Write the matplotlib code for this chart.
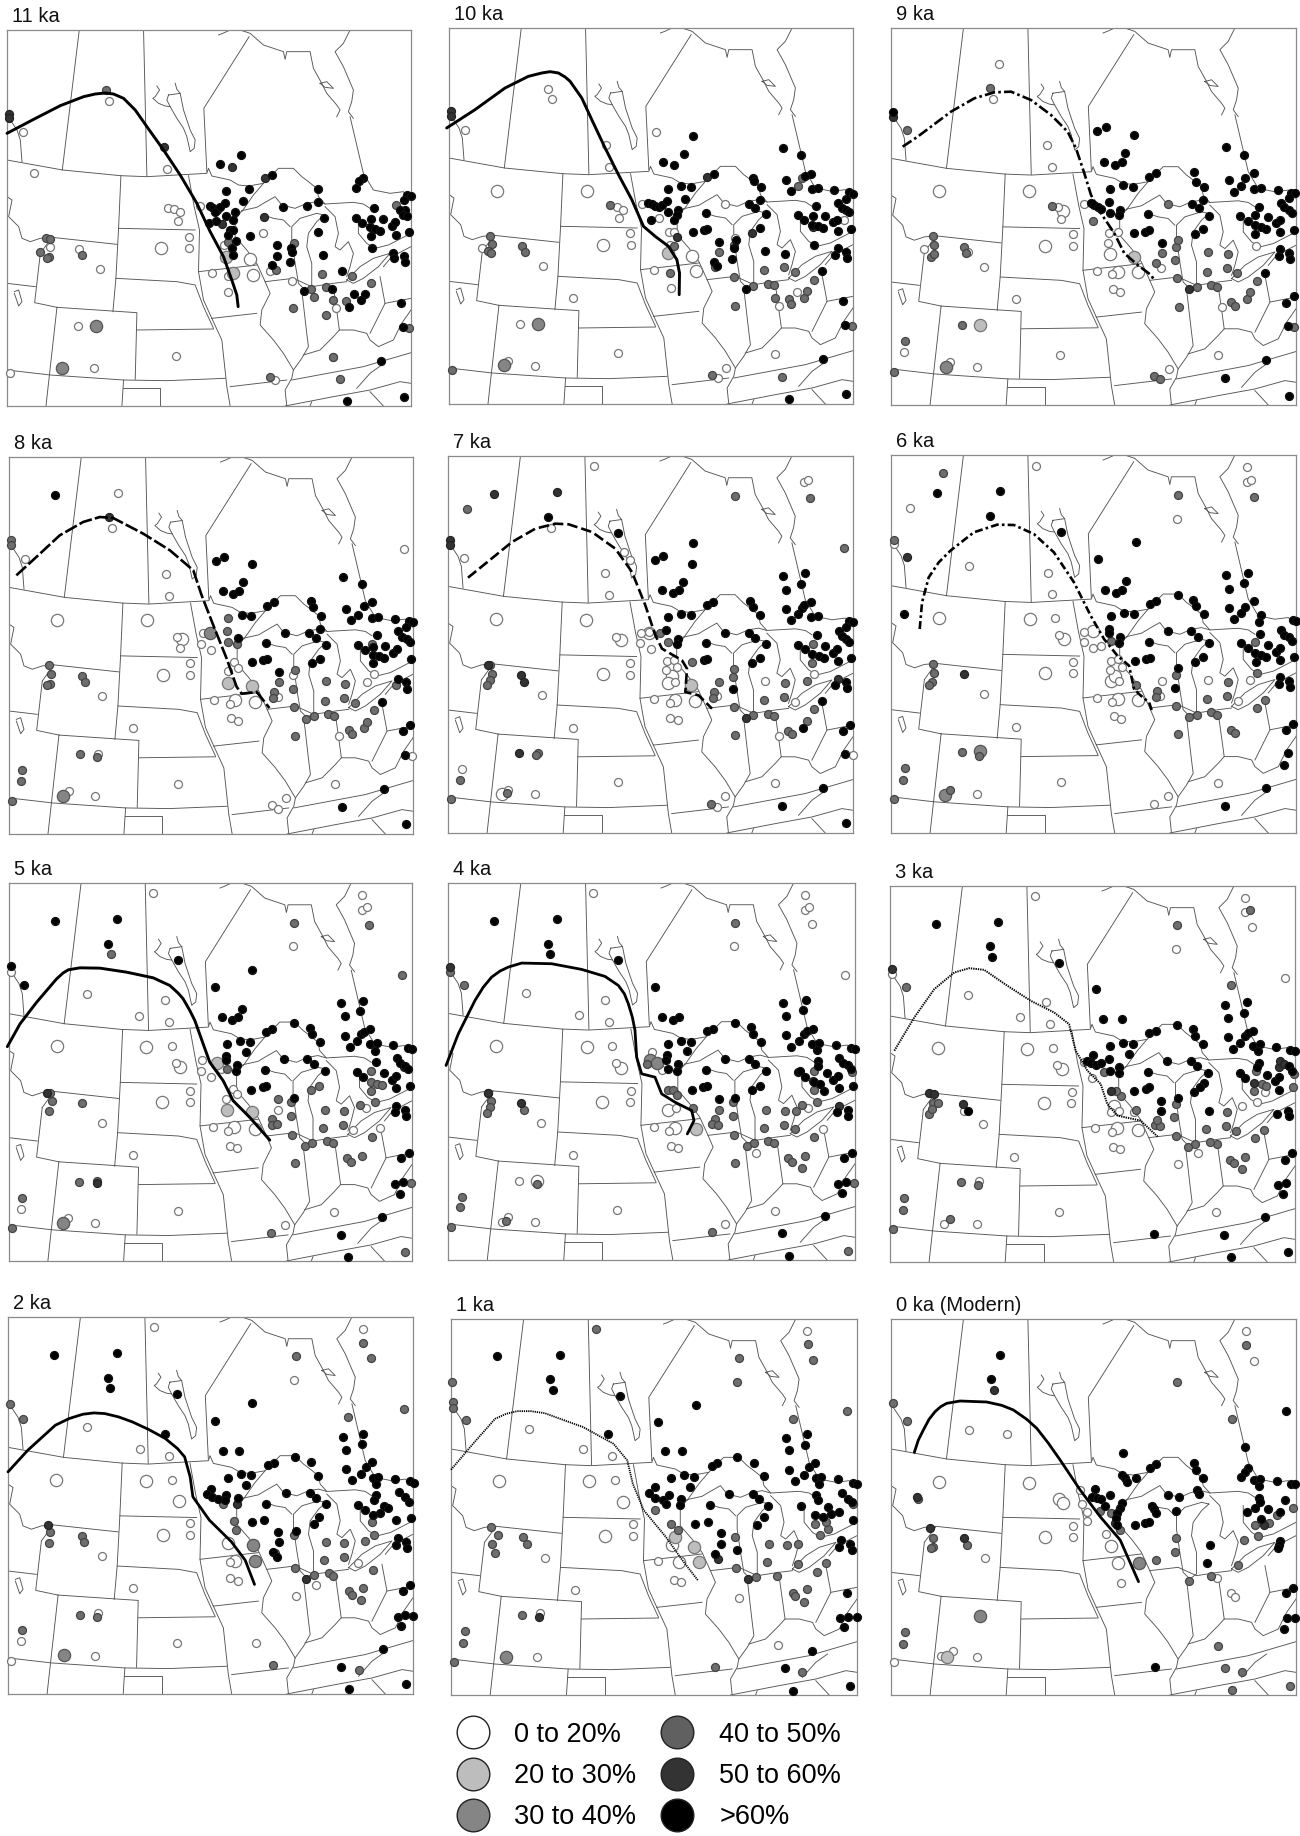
import matplotlib
matplotlib.use('Agg')
import matplotlib.pyplot as plt
from matplotlib.lines import Line2D

plt.rcParams['font.family'] = ['Liberation Sans', 'DejaVu Sans']

# class colours
C_WHITE = '#ffffff'
C_LIGHT = '#bdbdbd'
C_MID = '#858585'
C_DARK = '#606060'
C_VDARK = '#333333'
C_BLACK = '#000000'

legend_labels = ['0 to 20%', '20 to 30%', '30 to 40%', '40 to 50%', '50 to 60%', '>60%']
legend_colors = [C_WHITE, C_LIGHT, C_MID, C_DARK, C_VDARK, C_BLACK]

# base map (frame x 20-1233, y 90-1218)
map_lines = [
    [(237,90),(186,510)],
    [(430,90),(440,528)],
    [(747,110),(611,325),(620,515)],
    [(20,480),(187,510),(360,527),(440,530),(620,520),(625,505),(635,528),(690,540),(715,555),(745,558),(790,550),(815,525),(835,505),(880,505),(905,530),(925,545),(950,565),(955,590),(975,612)],
    [(725,635),(760,585),(790,550)],
    [(725,632),(770,622),(790,610),(825,590),(845,615),(885,625),(920,610),(950,605),(975,612),(1060,607),(1090,612),(1110,625)],
    [(655,105),(668,100),(690,90)],
    [(720,90),(750,100),(790,135),(850,155),(855,178),(860,155),(930,155),(940,205),(965,250),(980,280),(1010,315),(1020,330),(1010,350)],
    [(1050,90),(1030,130),(1005,155),(1030,200),(1060,270),(1055,305),(1045,335),(1060,355)],
    [(1050,350),(1090,520),(1120,570),(1170,580),(1210,575),(1233,600)],
    [(960,250),(980,245),(1000,265),(975,262),(960,250)],
    [(972,645),(950,640),(900,655),(875,680),(875,720),(885,790),(895,850),(915,870),(935,855),(935,790),(920,740),(925,700),(950,665),(972,645)],
    [(725,632),(705,660),(705,710),(740,750),(770,790),(795,845),(810,880),(785,930),(780,975),(820,1020),(850,1060),(880,1110),(875,1135),(855,1170),(860,1218)],
    [(790,645),(820,655),(850,660),(870,680)],
    [(975,620),(1005,650),(1015,700),(1005,740),(1020,750),(1045,725),(1060,760),(1050,800),(1040,830)],
    [(1040,840),(1080,800),(1120,775),(1170,760),(1135,800),(1090,835),(1060,850),(1040,840)],
    [(1075,650),(1075,700),(1100,730),(1125,745),(1165,735),(1233,700)],
    [(1150,800),(1175,770),(1233,740)],
    [(795,845),(880,835),(935,860),(1000,850),(1040,845)],
    [(905,870),(920,1000),(925,1040),(905,1075),(880,1110)],
    [(1000,860),(1018,990)],
    [(910,1065),(960,1050),(1000,1010),(1018,990),(1060,990),(1100,1000),(1110,1020),(1135,1040),(1180,1020),(1205,970),(1233,930)],
    [(1140,830),(1155,910),(1130,960),(1110,1000)],
    [(1155,910),(1233,895)],
    [(875,1140),(1090,1100),(1233,1058)],
    [(855,1218),(1000,1190),(1110,1170),(1200,1145),(1233,1150)],
    [(1070,1165),(1110,1120),(1145,1095)],
    [(1110,1175),(1150,1218)],
    [(930,1218),(935,1205)],
    [(635,955),(770,940)],
    [(690,1160),(860,1140)],
    [(635,955),(665,1020),(680,1160),(690,1218)],
    [(410,990),(640,987)],
    [(20,1110),(150,1125),(370,1140),(500,1142),(675,1135)],
    [(170,922),(410,938),(405,1138)],
    [(170,922),(137,1218)],
    [(120,760),(103,908),(170,922)],
    [(155,712),(350,733)],
    [(362,527),(355,685),(347,835),(338,935)],
    [(355,685),(585,690)],
    [(347,835),(530,845),(585,855),(610,920),(640,985)],
    [(565,527),(582,620),(598,690),(595,815),(770,795)],
    [(595,815),(610,900),(635,955)],
    [(20,590),(35,600),(25,650),(55,680),(65,715),(90,725),(120,715),(155,712),(120,760)],
    [(20,850),(105,860)],
    [(20,345),(50,390),(60,420),(65,485)],
    [(367,1165),(480,1165),(480,1218)],
    [(370,1140),(365,1218)],
    [(42,875),(55,870),(65,905),(55,918),(42,880)],
    [(505,285),(500,300),(510,320),(530,355),(550,385),(560,410),(570,455),(582,445),(585,420),(570,390),(550,330),(540,280),(505,285)],
    [(470,258),(478,270),(465,290),(458,295),(475,310),(495,318),(510,320)],
    [(525,250),(530,268),(540,280)],
]

# panel frames in pixels of the page: left, top, right, bottom
page_frames = [
    (7,30,411,406),(449,28,853,404),(891,28,1296,405),
    (9,457,413,834),(448,456,853,833),(891,455,1296,833),
    (9,883,412,1261),(448,883,855,1260),(890,886,1295,1262),
    (8,1317,413,1694),(451,1319,857,1695),(891,1319,1296,1695),
]
# the frame in the units each panel's sites were read in
read_frames = [
    (20,90,1233,1218),(22,85,1233,1213),(20,84,1235,1215),
    (28,85,1238,1216),(18,82,1233,1213),(22,78,1235,1212),
    (27,88,1237,1220),(19,88,1240,1218),(17,95,1234,1225),
    (14,90,750,1222),(820,95,1557,1225),(33,57,1247,1185),
]
labels = ['11 ka','10 ka','9 ka','8 ka','7 ka','6 ka','5 ka','4 ka','3 ka','2 ka','1 ka','0 ka (Modern)']
line_styles = ['-','-',(0,(4,1.2,1,1.2)),(0,(5,1.2)),(0,(4,1.5)),(0,(3,1.2,1,1.2)),'-','-',(0,(0.7,0.5)),'-',(0,(0.7,0.5)),'-']
line_widths = [2.1,2.1,1.9,1.9,1.9,1.9,2.1,2.0,1.4,2.0,1.3,2.0]

line_11 = [(20,400),(100,358),(180,317),(250,290),(285,282),(315,279),(340,282),(370,295),(405,330),(440,380),(490,450),(540,525),(590,610),(630,695),(670,770),(695,840),(710,885),(714,920)]
line_10 = [(15,385),(100,330),(190,265),(260,230),(300,220),(325,216),(350,220),(370,232),(385,245),(420,295),(450,360),(490,445),(530,525),(570,600),(605,680),(640,710),(680,740),(705,780),(713,820),(712,885)]
line_9 = [(55,440),(100,410),(200,335),(270,295),(330,277),(380,275),(440,300),(500,345),(550,395),(575,445),(600,520),(620,585),(650,640),(690,700),(720,760),(760,795),(800,825),(808,838)]
line_8 = [(50,440),(110,385),(180,320),(250,280),(300,265),(340,268),(430,315),(510,365),(580,425),(605,500),(640,590),(680,690),(710,775),(725,795),(770,790),(808,838)]
line_7 = [(78,447),(130,405),(210,340),(280,300),(340,285),(380,287),(450,310),(520,360),(570,430),(610,530),(640,620),(660,660),(720,695),(735,720),(730,790),(770,800),(810,840)]
line_6 = [(108,600),(115,520),(135,445),(165,400),(200,365),(270,310),(340,287),(390,288),(450,315),(510,370),(570,460),(620,560),(660,630),(700,680),(735,710),(750,780),(770,800),(795,820),(805,850)]
line_5 = [(22,578),(60,510),(110,445),(170,375),(190,357),(205,348),(240,342),(300,343),(380,355),(460,372),(510,395),(535,418),(550,435),(570,470),(585,500),(610,570),(630,625),(670,680),(700,740),(750,790),(810,858)]
line_4 = [(13,635),(50,540),(100,440),(125,400),(150,370),(175,352),(200,340),(240,328),(330,330),(420,347),(490,368),(530,395),(548,420),(560,450),(572,490),(580,530),(585,610),(600,660),(640,670),(660,720),(700,745),(750,770),(757,800),(737,840)]
line_3 = [(30,590),(90,490),(150,405),(210,355),(255,342),(300,347),(370,395),(440,440),(510,475),(555,510),(575,590),(610,650),(650,690),(670,750),(700,785),(770,800),(823,850)]
line_2 = [(14,555),(50,490),(100,415),(125,395),(150,382),(170,378),(190,380),(215,390),(240,405),(270,428),(300,455),(322,485),(335,510),(345,570),(350,630),(380,700),(420,765),(445,820),(462,893)]
line_1 = [(820,548),(860,470),(900,395),(920,380),(940,372),(965,372),(990,378),(1060,420),(1115,470),(1140,520),(1150,590),(1170,670),(1210,750),(1240,820),(1268,880)]
line_0 = [(103,457),(115,420),(130,390),(147,358),(165,335),(182,320),(200,310),(240,303),(320,306),(365,316),(400,330),(440,358),(470,385),(505,430),(540,480),(600,570),(660,650),(720,720),(775,845)]

# sites per panel: white, big white, big light, mid, big mid, dark, black
white_11 = [(67,395),(102,520),(327,303),(500,507),(503,623),(520,628),(540,636),(532,662),(565,710),(565,745),(235,747),(232,978),(300,807),(637,819),(528,1067),(280,1103),(30,1118),(790,700),(672,735),(685,828),(685,875),(810,812),(875,842),(1008,923),(998,1070),(825,1140),(600,617),(150,742)]
bwhite_11 = [(482,743),(750,777),(760,825)]
blight_11 = [(678,770),(698,820)]
mid_11 = [(318,270),(118,755),(145,770),(138,715),(150,716),(1187,615),(245,765),(1057,827),(1113,850),(943,892),(880,924),(934,866),(978,860),(998,900),(1037,903),(978,944),(965,822),(1228,983),(810,1132),(1020,1138),(881,730),(827,810),(140,775),(685,725),(998,1070)]
bmid_11 = [(287,978),(185,1103)]
dark_11 = [(490,440),(665,672),(695,500),(795,535),(793,650),(25,342),(25,355)]
black_11 = [(660,492),(724,466),(815,525),(1090,535),(1078,542),(1068,564),(1220,585),(1232,587),(1213,600),(955,567),(953,607),(748,566),(677,573),(728,602),(630,618),(640,625),(650,630),(660,620),(675,610),(645,635),(627,668),(648,663),(678,647),(705,637),(700,660),(690,690),(700,690),(708,722),(695,745),(700,765),(685,705),(850,620),(920,618),(972,653),(953,695),(750,707),(830,735),(872,745),(875,755),(830,767),(870,787),(817,795),(968,765),(1025,813),(912,873),(995,867),(1062,882),(1095,882),(1083,901),(1048,920),(1067,654),(1087,670),(1113,657),(1122,625),(1148,658),(1110,682),(1125,688),(1140,692),(1112,708),(1175,678),(1185,665),(1187,704),(1227,695),(1215,630),(1200,630),(1210,645),(1222,647),(1115,743),(1180,760),(1182,775),(1213,767),(1216,785),(1203,910),(1208,981),(1143,1084),(1213,1190),(1040,1204)]

white_10 = [(69,390),(320,267),(330,298),(492,435),(503,503),(641,396),(600,613),(525,622),(543,630),(533,654),(650,655),(566,700),(567,735),(680,697),(695,697),(685,735),(635,810),(688,865),(395,895),(303,798),(235,972),(281,1098),(200,1083),(530,1061),(998,1063),(851,1104),(827,1135),(850,612),(790,690),(880,715),(1064,876),(1010,918),(120,746),(1205,662)]
bwhite_10 = [(166,573),(435,575),(484,735),(750,770),(762,815)]
blight_10 = [(677,760)]
mid_10 = [(505,617),(145,708),(152,733),(140,755),(148,760),(240,738),(250,757),(1067,560),(1080,535),(830,758),(875,735),(877,833),(933,858),(978,852),(996,856),(1000,895),(1040,897),(1047,912),(1085,895),(1095,875),(1115,840),(1058,818),(1025,803),(965,812),(820,802),(880,918),(1020,1133),(810,1127),(32,1112),(685,820),(695,738),(1230,978)]
bmid_10 = [(289,972),(186,1097)]
dark_10 = [(28,335),(27,350),(795,533),(930,700),(1112,682),(705,712)]
black_10 = [(752,408),(725,462),(662,487),(695,497),(815,522),(932,535),(935,545),(957,562),(1022,445),(1078,467),(1032,542),(1047,575),(1108,522),(1090,530),(1110,568),(1128,565),(1177,570),(1220,578),(1233,582),(1213,597),(678,567),(718,558),(748,562),(729,597),(620,610),(630,612),(640,620),(650,622),(660,615),(676,605),(678,637),(708,630),(705,645),(695,660),(628,660),(793,641),(921,612),(955,602),(940,625),(972,643),(953,686),(752,697),(785,692),(795,688),(830,727),(882,720),(875,745),(870,778),(817,787),(825,800),(968,755),(1028,762),(912,867),(1068,645),(1087,660),(1113,650),(1122,620),(1148,650),(1187,610),(1200,625),(1213,630),(1222,637),(1110,675),(1128,680),(1142,685),(1172,668),(1185,660),(1187,695),(1227,687),(1115,735),(1188,745),(1180,765),(1213,757),(1216,775),(1140,815),(1203,905),(1208,976),(1143,1078),(1213,1184),(1042,1198)]

white_9 = [(345,192),(327,298),(488,434),(502,500),(600,613),(520,622),(530,656),(565,703),(565,738),(675,700),(700,695),(672,728),(637,812),(683,823),(685,868),(707,875),(395,898),(300,800),(278,1100),(198,1086),(528,1064),(1000,1065),(853,1106),(60,1057),(118,748),(830,803),(1012,922),(250,757),(1115,737)]
bwhite_9 = [(163,572),(433,574),(482,737),(677,762),(537,632),(700,815),(760,817)]
blight_9 = [(750,770),(287,975)]
mid_9 = [(63,1023),(68,390),(318,265),(503,617),(145,708),(150,735),(140,770),(148,762),(238,740),(245,760),(232,975),(30,1115),(808,1128),(828,1137),(883,920),(851,612),(1058,820),(1028,805),(967,815),(1117,842),(1030,763),(972,757),(878,835),(937,860),(980,855),(997,860),(1040,905),(1052,917),(1087,898),(1097,877),(873,780),(833,760),(875,740),(882,720),(815,790),(627,662),(1230,980)]
bmid_9 = [(184,1100)]
dark_9 = [(26,350),(915,868)]
black_9 = [(27,335),(638,394),(664,382),(750,406),(722,460),(660,485),(692,495),(712,485),(795,530),(815,520),(930,517),(935,545),(958,560),(1024,442),(1080,465),(1033,540),(1048,575),(1070,557),(1083,533),(1110,520),(1110,566),(1130,563),(1180,570),(1220,578),(1233,580),(1213,595),(677,566),(717,556),(746,560),(620,608),(630,615),(640,622),(650,628),(675,605),(677,640),(707,630),(705,645),(792,643),(922,612),(957,600),(943,625),(975,647),(955,688),(932,703),(750,700),(783,695),(795,690),(832,728),(1068,648),(1090,662),(1113,645),(1125,620),(1150,652),(1190,608),(1200,622),(1215,630),(1222,640),(1113,675),(1130,682),(1145,688),(1175,668),(1187,660),(1187,697),(1229,690),(1113,703),(1188,748),(1183,768),(1215,760),(1218,778),(1143,818),(1205,908),(1228,888),(1210,978),(1146,1081),(1215,1187),(1022,1135)]

white_8 = [(353,193),(335,298),(498,436),(508,501),(76,390),(608,613),(530,626),(540,658),(604,645),(634,664),(571,704),(571,740),(683,728),(703,700),(713,717),(643,813),(690,825),(693,869),(713,877),(308,802),(400,898),(207,1087),(287,1102),(535,1065),(1005,1067),(857,1107),(815,1130),(833,1140),(1015,922),(1210,361),(1100,760),(1120,737),(835,804),(880,740),(295,975),(1236,982)]
bwhite_8 = [(172,573),(440,575),(489,738),(545,632),(705,815),(766,820)]
blight_8 = [(683,763),(757,772)]
mid_8 = [(33,335),(33,350),(68,1025),(65,1058),(38,1116),(147,710),(155,737),(152,765),(143,770),(247,742),(255,760),(240,975),(292,985),(683,567),(682,607),(683,640),(711,647),(838,761),(823,790),(818,808),(886,723),(878,780),(882,836),(886,921),(919,870),(940,862),(983,855),(1002,862),(1045,905),(1055,917),(1090,898),(1101,880),(1120,845),(1065,822),(1032,807),(973,816),(976,758),(1033,766),(1115,645),(1187,770)]
bmid_8 = [(630,613),(191,1101)]
dark_8 = [(327,265)]
black_8 = [(167,198),(647,396),(671,384),(757,407),(729,461),(668,487),(699,495),(718,487),(801,532),(822,520),(934,517),(938,536),(962,562),(1028,445),(1086,467),(1037,542),(1052,575),(1074,558),(1090,533),(1115,521),(1115,567),(1133,565),(1184,571),(1226,578),(1238,581),(1217,596),(725,558),(754,561),(713,628),(798,644),(855,612),(927,612),(960,601),(947,628),(978,648),(960,690),(935,704),(757,700),(790,695),(800,692),(838,730),(1073,649),(1093,664),(1118,655),(1130,620),(1155,653),(1193,608),(1205,625),(1220,630),(1228,640),(1117,680),(1135,683),(1150,688),(1178,672),(1190,660),(1117,704),(1232,690),(1193,750),(1218,760),(1220,780),(1146,819),(1207,908),(1230,890),(1213,980),(1150,1082),(1218,1187),(1026,1136)]

white_7 = [(455,113),(66,388),(327,297),(545,370),(565,393),(490,434),(501,500),(597,612),(595,643),(627,662),(522,625),(565,703),(565,738),(675,697),(695,695),(705,715),(673,725),(700,760),(637,812),(683,823),(685,868),(707,875),(393,898),(300,800),(60,1020),(197,1085),(278,1097),(527,1060),(998,1063),(850,1103),(825,1135),(1085,160),(1098,155),(968,758),(1115,737),(1010,921),(825,803),(1232,978),(620,610),(1058,820)]
bwhite_7 = [(162,572),(433,574),(537,635),(482,737),(622,612),(690,742),(677,762),(700,815),(760,817),(180,1097)]
blight_7 = [(748,770)]
mid_7 = [(880,202),(1105,208),(1205,358),(74,242),(145,708),(150,735),(145,755),(135,768),(287,972),(283,980),(195,1092),(55,1053),(27,1110),(677,640),(750,700),(830,760),(815,790),(812,808),(877,720),(873,745),(877,835),(880,920),(933,860),(977,855),(995,862),(1038,906),(1050,917),(1095,878),(1115,842),(1025,806),(965,815),(1028,763),(1095,757),(1112,645),(1110,702),(808,1126),(655,612)]
bmid_7 = []
dark_7 = [(157,196),(345,190),(25,335),(24,350),(137,710),(237,740),(247,760),(232,972),(912,868),(1187,750)]
black_7 = [(318,265),(528,314),(753,342),(750,405),(640,394),(664,382),(723,460),(660,485),(693,494),(712,485),(795,530),(813,520),(925,517),(933,535),(955,560),(1022,442),(1088,434),(1078,466),(1031,483),(1031,540),(1047,574),(1068,556),(1080,537),(1085,530),(1108,520),(1107,565),(1127,563),(1220,578),(1232,580),(1213,595),(677,566),(717,556),(746,560),(673,605),(707,630),(705,647),(792,643),(850,612),(921,612),(940,627),(972,647),(953,688),(930,703),(785,693),(795,690),(873,780),(1068,648),(1088,662),(1125,620),(1148,652),(1190,608),(1200,622),(1213,630),(1222,640),(1110,677),(1130,683),(1145,688),(1172,672),(1185,660),(1187,697),(1227,688),(1180,768),(1213,760),(1216,778),(1140,817),(1083,898),(1203,908),(1225,888),(1208,975),(1143,1077),(1020,1131),(1213,1183)]

white_6 = [(457,110),(1087,115),(1087,158),(1100,152),(878,270),(257,410),(492,431),(503,496),(513,568),(600,608),(600,640),(628,658),(525,618),(568,698),(568,733),(680,695),(703,690),(713,715),(677,722),(705,755),(640,808),(685,820),(690,862),(710,870),(397,893),(302,796),(281,1096),(530,1059),(1001,1062),(853,1102),(810,1125),(78,238),(30,345),(970,753),(1098,752),(1060,815),(833,755),(828,800),(650,652)]
bwhite_6 = [(166,567),(437,570),(540,630),(484,733),(627,607),(682,757),(692,740),(703,810),(763,813)]
blight_6 = []
mid_6 = [(177,132),(882,198),(1108,205),(30,332),(147,705),(152,732),(145,760),(137,767),(235,970),(287,980),(65,1018),(59,1053),(32,1110),(200,1082),(680,635),(755,768),(820,785),(815,803),(875,737),(877,830),(883,916),(915,865),(937,857),(980,850),(998,857),(1040,902),(1052,913),(1117,838),(1142,813),(1028,802),(968,810),(1030,760),(1112,640),(1118,733)]
bmid_6 = [(290,965),(185,1097)]
dark_6 = [(69,385),(240,736)]
black_6 = [(62,556),(161,192),(348,186),(320,262),(530,310),(642,390),(755,339),(725,456),(663,482),(696,491),(715,482),(881,499),(797,526),(816,516),(928,513),(936,532),(958,556),(1024,438),(1090,431),(1080,462),(1033,479),(1033,536),(1049,570),(1070,553),(1083,533),(1110,516),(1130,558),(1124,579),(1225,574),(1235,576),(680,561),(720,551),(749,555),(676,600),(676,612),(708,625),(706,642),(795,638),(851,606),(922,606),(942,623),(974,642),(955,684),(932,698),(752,696),(787,690),(797,687),(882,718),(873,776),(1070,643),(1090,658),(1126,615),(1152,648),(1190,603),(1200,618),(1215,625),(1223,635),(1112,672),(1130,678),(1145,684),(1175,668),(1187,657),(1188,693),(1228,684),(1114,698),(1188,745),(1184,765),(1215,755),(1218,773),(1205,903),(1226,885),(1210,973),(1200,1008),(1146,1077),(1022,1130)]

white_5 = [(460,119),(1088,125),(1088,168),(1102,161),(880,278),(32,354),(260,419),(496,438),(417,485),(506,504),(516,575),(606,618),(602,650),(632,670),(528,628),(570,710),(570,745),(700,705),(712,720),(680,735),(641,820),(686,830),(690,875),(712,882),(400,904),(306,806),(285,1106),(533,1070),(1003,1073),(855,1113),(63,1063),(205,1092),(835,767),(1100,762),(1142,823),(1060,828),(664,645)]
bwhite_5 = [(170,576),(439,579),(541,640),(487,744),(703,820),(766,825)]
blight_5 = [(683,768),(757,775),(652,627)]
mid_5 = [(1109,213),(1208,365),(884,208),(333,302),(150,716),(155,742),(148,770),(245,747),(290,980),(67,1030),(36,1122),(813,1135),(835,736),(818,795),(818,813),(832,810),(875,787),(875,745),(878,842),(885,928),(917,876),(938,867),(982,860),(1000,867),(1043,912),(1053,925),(1088,905),(1118,850),(1030,813),(970,822),(976,767),(1032,770),(1080,752),(1115,650),(1115,685),(1115,710),(1125,743),(1132,690),(1147,693),(957,695),(933,708),(237,982),(1233,987),(1216,1192),(682,646)]
bmid_5 = [(190,1107)]
dark_5 = [(142,716),(290,987),(1212,640)]
black_5 = [(33,338),(73,393),(165,202),(350,196),(323,271),(533,319),(757,348),(645,399),(727,464),(666,490),(696,498),(716,490),(882,507),(798,533),(818,525),(931,521),(936,540),(960,565),(1025,447),(1090,440),(1082,470),(1035,487),(1035,545),(1050,579),(1072,562),(1085,540),(1092,535),(1112,525),(1112,570),(1132,567),(1125,590),(1181,574),(1224,582),(1236,585),(682,570),(722,561),(752,564),(738,593),(680,605),(680,617),(712,632),(708,652),(796,649),(852,616),(923,615),(944,631),(976,652),(755,707),(790,700),(798,696),(884,731),(1071,654),(1090,668),(1128,623),(1152,658),(1192,612),(1200,628),(1215,635),(1225,645),(1178,678),(1188,665),(1189,703),(1230,695),(1190,755),(1185,775),(1216,767),(1218,785),(1205,913),(1228,896),(1187,990),(1210,984),(1200,1018),(1147,1087),(1023,1141),(1045,1207)]

white_4 = [(455,118),(1090,125),(1090,168),(1103,161),(1111,212),(877,278),(1211,365),(253,419),(490,438),(413,485),(501,505),(512,576),(632,595),(662,648),(522,628),(567,710),(565,745),(704,763),(638,819),(683,830),(688,875),(708,882),(393,904),(299,807),(232,982),(180,1105),(198,1090),(279,1105),(527,1068),(1000,1070),(851,1111),(943,896),(1145,825),(1100,762)]
bwhite_4 = [(163,576),(435,579),(537,642),(482,745),(678,769),(700,822),(287,980)]
blight_4 = [(763,825)]
mid_4 = [(881,208),(62,1030),(56,1060),(28,1118),(25,355),(66,393),(140,716),(148,740),(145,760),(137,777),(247,767),(285,990),(193,1100),(810,1133),(680,708),(695,707),(705,722),(755,763),(832,767),(820,795),(812,810),(828,812),(873,787),(875,745),(878,842),(880,928),(915,876),(936,867),(978,860),(997,867),(1040,912),(1050,925),(1090,905),(1081,942),(1118,850),(1060,826),(1027,813),(967,821),(973,767),(1030,770),(1063,770),(1082,753),(1117,708),(1125,743),(1118,652),(1230,655),(1237,988),(1218,1190),(615,630)]
bmid_4 = [(625,618),(645,627)]
dark_4 = [(25,340),(138,716),(237,747),(1113,682),(1192,755)]
black_4 = [(157,202),(345,196),(319,271),(326,302),(528,319),(641,399),(661,490),(693,498),(713,490),(879,507),(796,533),(815,525),(927,521),(933,540),(957,565),(1023,447),(1092,440),(1085,470),(1033,487),(1033,545),(1048,579),(1072,562),(1087,540),(1095,533),(1115,525),(1112,570),(1133,567),(1127,590),(1184,574),(1228,583),(1240,586),(678,570),(718,561),(747,564),(735,593),(675,605),(672,618),(708,632),(706,652),(678,647),(793,649),(850,616),(921,615),(940,631),(973,652),(955,695),(930,708),(751,707),(785,700),(796,696),(832,736),(881,731),(1068,655),(1075,652),(1090,668),(1130,623),(1128,636),(1155,658),(1193,612),(1203,628),(1218,635),(1228,645),(1175,678),(1188,665),(1118,685),(1135,690),(1148,712),(1191,703),(1233,695),(1187,775),(1218,767),(1220,785),(1207,913),(1230,896),(1188,990),(1213,984),(1202,1018),(1149,1085),(1021,1138),(1043,1205)]

white_3 = [(452,125),(1085,130),(1085,173),(1106,218),(876,284),(1205,370),(22,360),(251,424),(487,445),(409,490),(498,510),(508,581),(624,672),(518,632),(563,713),(562,748),(680,775),(705,770),(750,775),(632,822),(683,833),(686,880),(708,885),(390,908),(297,810),(284,983),(180,1112),(277,1110),(525,1075),(998,1076),(881,931),(943,898),(1075,757),(1120,745),(1143,715),(240,770),(600,625)]
bwhite_3 = [(160,582),(430,585),(534,646),(480,747),(700,823),(763,828),(690,755)]
blight_3 = []
mid_3 = [(880,213),(1042,393),(65,399),(59,1033),(55,1068),(27,1125),(145,746),(160,748),(135,780),(142,765),(230,985),(281,993),(197,1097),(1100,168),(1114,853),(1140,828),(1058,830),(1026,817),(966,826),(1029,773),(1085,908),(1040,917),(1050,927),(1076,945),(1000,870),(978,865),(935,870),(913,878),(877,845),(871,790),(875,750),(812,812),(828,815),(818,797),(755,768),(710,725),(695,710),(660,655),(1110,710),(1135,690),(1147,697),(1227,698),(1118,652),(1230,660)]
bmid_3 = []
dark_3 = [(23,345),(135,718),(150,720),(235,750),(680,710),(1187,640),(1110,688),(1190,620),(1200,630)]
black_3 = [(156,208),(343,202),(316,276),(323,308),(524,325),(637,405),(658,496),(713,496),(879,513),(796,538),(815,530),(927,525),(933,545),(957,570),(1023,453),(1090,445),(1080,476),(1032,493),(1032,550),(1048,585),(1070,567),(1083,545),(1092,538),(1108,530),(1107,575),(1128,570),(1122,592),(1178,580),(1220,588),(1233,590),(678,575),(718,567),(747,570),(735,600),(628,602),(610,620),(620,628),(635,632),(650,628),(675,615),(678,650),(706,638),(705,657),(793,653),(850,622),(921,620),(940,637),(972,657),(960,688),(950,700),(930,713),(751,710),(785,705),(795,700),(830,740),(830,770),(881,733),(975,770),(1068,658),(1085,672),(1125,628),(1120,640),(1150,662),(1215,635),(1225,650),(1175,682),(1185,668),(1187,708),(1180,780),(1213,770),(1216,787),(1205,918),(1224,898),(1184,994),(1206,988),(1197,1022),(1145,1090),(1020,1145),(1042,1211),(1214,1196),(810,1140),(250,770)]

white_2 = [(279,120),(660,125),(534,280),(157,420),(253,487),(307,507),(312,578),(345,710),(345,745),(418,825),(418,875),(432,882),(241,905),(185,808),(177,978),(172,1107),(322,1070),(37,1063),(20,1122),(574,895),(537,928),(464,1070),(650,830)]
bwhite_2 = [(101,578),(265,581),(295,744),(325,642),(427,822),(414,770)]
blight_2 = []
mid_2 = [(537,207),(660,168),(673,213),(734,366),(632,390),(40,1030),(18,352),(42,396),(90,735),(88,770),(148,747),(152,765),(175,990),(425,703),(405,650),(428,730),(495,1135),(652,1150),(592,766),(625,770),(588,820),(625,810),(677,850),(597,860),(605,867),(535,843),(570,865),(633,912),(640,925),(660,905),(655,940),(533,745),(500,800),(663,762),(680,745),(675,705),(145,985)]
bmid_2 = [(460,775),(463,823),(115,1105)]
dark_2 = [(87,716),(555,877),(430,650)]
black_2 = [(98,203),(212,198),(196,272),(200,302),(322,320),(458,349),(390,401),(299,441),(404,492),(434,492),(535,510),(565,525),(497,527),(487,535),(577,568),(623,450),(660,441),(657,472),(628,490),(628,547),(640,580),(655,562),(665,540),(675,525),(677,572),(687,570),(682,590),(717,575),(745,583),(752,587),(413,572),(438,562),(456,565),(447,595),(382,605),(375,620),(385,630),(395,635),(410,625),(408,640),(432,632),(483,650),(520,617),(563,617),(573,632),(592,652),(580,690),(570,712),(458,707),(480,700),(505,735),(506,767),(538,732),(495,795),(650,655),(662,670),(683,625),(680,640),(697,657),(725,615),(735,630),(742,645),(690,680),(705,665),(678,685),(720,700),(746,695),(722,755),(720,775),(738,767),(740,785),(731,912),(745,895),(722,990),(735,985),(750,988),(728,1018),(696,1088),(620,1142),(633,1208),(738,1192),(503,810)]

white_1 = [(1466,130),(962,425),(1059,487),(1112,507),(1118,578),(1151,712),(1151,748),(1195,822),(1225,880),(1237,885),(1045,908),(990,812),(981,980),(976,1110),(1414,1076),(1342,932)]
bwhite_1 = [(908,581),(1071,583),(1133,645),(1100,748),(1222,775),(1233,825)]
blight_1 = [(1226,750),(1262,780),(1270,826)]
mid_1 = [(1084,124),(1342,212),(1340,285),(1478,219),(1440,395),(1538,372),(822,283),(823,345),(823,362),(848,400),(845,1033),(842,1068),(825,1125),(893,720),(905,745),(895,770),(900,797),(950,750),(958,770),(948,986),(1299,1140),(1458,1155),(1468,170),(1398,770),(1394,825),(1336,750),(1430,773),(1450,770),(1485,855),(1500,827),(1450,830),(1412,867),(1373,870),(1337,843),(1440,917),(1445,928),(1466,907),(1461,945),(1232,728),(1220,710),(1190,670),(1480,710),(1505,725),(1490,745),(1550,650),(1500,705)]
bmid_1 = [(920,1110)]
dark_1 = [(980,992),(1360,877),(1305,815)]
black_1 = [(904,207),(1018,203),(1000,276),(1006,308),(1127,325),(1264,353),(1196,406),(1105,442),(1209,493),(1240,493),(1340,511),(1370,527),(1302,527),(1293,537),(1388,568),(1428,452),(1467,442),(1463,473),(1433,490),(1433,550),(1444,582),(1460,563),(1470,540),(1480,527),(1482,572),(1492,570),(1488,592),(1522,577),(1550,587),(1557,590),(1219,574),(1243,565),(1262,570),(1253,600),(1190,600),(1180,618),(1190,632),(1205,638),(1215,625),(1237,637),(1235,655),(1210,650),(1290,655),(1325,620),(1368,620),(1380,637),(1396,658),(1388,690),(1375,715),(1263,710),(1287,705),(1310,738),(1310,770),(1340,790),(1300,800),(1455,658),(1482,625),(1487,640),(1505,660),(1530,617),(1540,635),(1548,645),(1480,685),(1495,690),(1510,680),(1525,675),(1550,700),(1528,760),(1525,780),(1545,772),(1548,790),(1538,917),(1526,995),(1540,990),(1557,992),(1534,1022),(1476,1092),(1427,1145),(1440,1212),(1545,1197)]

white_0 = [(1098,93),(1120,182),(268,389),(380,403),(580,677),(579,712),(620,662),(620,635),(607,612),(678,703),(722,850),(314,775),(183,1068),(218,1053),(292,1070),(43,1085),(1010,833),(1052,880),(1063,892),(600,570)]
bwhite_0 = [(178,546),(448,549),(537,597),(550,610),(495,712),(692,737),(712,788)]
blight_0 = [(200,1072)]
mid_0 = [(1098,136),(890,247),(1056,357),(40,308),(81,362),(76,997),(70,1031),(1013,1038),(160,715),(160,740),(152,745),(262,735),(115,597),(660,632),(693,640),(720,690),(828,780),(886,715),(883,755),(926,843),(991,828),(1072,795),(1090,720),(1132,708),(1125,675),(1165,668),(1237,625),(1190,645),(1085,1117),(1228,1157),(1055,1170),(1034,1105)]
bmid_0 = [(300,949),(775,790)]
dark_0 = [(110,592),(252,715),(150,685),(1150,675),(705,670),(341,270)]
black_0 = [(360,165),(333,238),(1218,333),(727,460),(1093,440),(1103,503),(1095,517),(1082,532),(808,503),(828,493),(940,490),(946,510),(968,534),(725,525),(733,535),(740,545),(767,534),(1120,540),(1140,537),(1135,558),(1191,544),(1232,552),(1245,553),(645,568),(637,590),(650,595),(662,598),(688,585),(675,618),(725,610),(718,625),(710,640),(708,655),(710,675),(815,618),(820,628),(828,638),(765,674),(795,670),(805,667),(863,585),(895,590),(950,570),(955,582),(886,634),(990,735),(980,790),(1136,595),(1138,605),(1125,625),(1100,637),(1162,627),(1214,600),(1198,635),(1143,658),(1200,722),(1195,735),(1193,743),(1216,880),(1238,863),(1220,953),(1245,955),(1210,987),(823,1100)]

ecotones = [line_11,line_10,line_9,line_8,line_7,line_6,line_5,line_4,line_3,line_2,line_1,line_0]
white_sets = [white_11,white_10,white_9,white_8,white_7,white_6,white_5,white_4,white_3,white_2,white_1,white_0]
bwhite_sets = [bwhite_11,bwhite_10,bwhite_9,bwhite_8,bwhite_7,bwhite_6,bwhite_5,bwhite_4,bwhite_3,bwhite_2,bwhite_1,bwhite_0]
blight_sets = [blight_11,blight_10,blight_9,blight_8,blight_7,blight_6,blight_5,blight_4,blight_3,blight_2,blight_1,blight_0]
mid_sets = [mid_11,mid_10,mid_9,mid_8,mid_7,mid_6,mid_5,mid_4,mid_3,mid_2,mid_1,mid_0]
bmid_sets = [bmid_11,bmid_10,bmid_9,bmid_8,bmid_7,bmid_6,bmid_5,bmid_4,bmid_3,bmid_2,bmid_1,bmid_0]
dark_sets = [dark_11,dark_10,dark_9,dark_8,dark_7,dark_6,dark_5,dark_4,dark_3,dark_2,dark_1,dark_0]
black_sets = [black_11,black_10,black_9,black_8,black_7,black_6,black_5,black_4,black_3,black_2,black_1,black_0]

SMALL = 33
BIG = 78


def sites(ax, pts, color, size, edge):
    if not pts:
        return
    ax.scatter([p[0] for p in pts], [p[1] for p in pts], s=size, c=color,
               edgecolors=edge, linewidths=0.9, zorder=3, clip_on=False)


fig = plt.figure(figsize=(13, 18.36), dpi=100)
for i in range(12):
    l, t, r, b = page_frames[i]
    ax = fig.add_axes([l / 1300, 1 - b / 1836, (r - l) / 1300, (b - t) / 1836])
    fx0, fy0, fx1, fy1 = read_frames[i]
    ax.set_xlim(fx0, fx1)
    ax.set_ylim(fy1, fy0)
    ax.set_xticks([])
    ax.set_yticks([])
    for sp in ax.spines.values():
        sp.set_color('#8a8a8a')
        sp.set_linewidth(0.9)
    for seg in map_lines:
        ax.plot([(p[0] - 20) / 1213 for p in seg], [1 - (p[1] - 90) / 1128 for p in seg],
                color='#555555', lw=0.65, transform=ax.transAxes, zorder=1)
    sites(ax, bwhite_sets[i], C_WHITE, BIG, '#777777')
    sites(ax, white_sets[i], C_WHITE, SMALL, '#777777')
    sites(ax, blight_sets[i], C_LIGHT, BIG, '#777777')
    sites(ax, bmid_sets[i], C_MID, BIG, '#555555')
    sites(ax, mid_sets[i], '#6e6e6e', SMALL, '#444444')
    sites(ax, dark_sets[i], C_VDARK, SMALL, '#222222')
    sites(ax, black_sets[i], C_BLACK, SMALL, '#111111')
    ax.plot([p[0] for p in ecotones[i]], [p[1] for p in ecotones[i]], color='black',
            lw=line_widths[i], ls=line_styles[i], zorder=4, clip_on=False,
            solid_joinstyle='round', solid_capstyle='round')
    ax.annotate(labels[i], xy=(0, 1), xycoords='axes fraction', xytext=(3.5, 6),
                textcoords='offset points', fontsize=14.5, color='#111111')

handles = [Line2D([], [], ls='', marker='o', ms=23.5, mfc=c, mec='#222222', mew=1.0) for c in legend_colors]
fig.legend(handles, legend_labels, ncol=2, frameon=False, fontsize=19.5, loc='center',
           bbox_to_anchor=(648 / 1300, 1 - 1776 / 1836), labelspacing=0.56,
           columnspacing=0.85, handletextpad=0.9, handlelength=1.3)

fig.savefig('out.png', dpi=100, facecolor='white')
